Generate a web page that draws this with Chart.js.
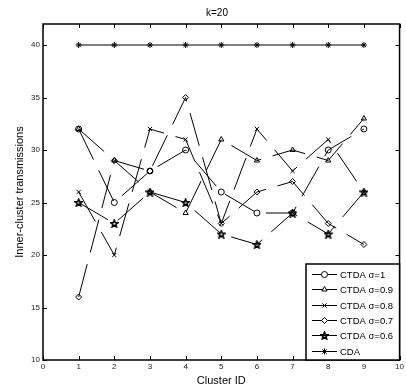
<!DOCTYPE html>
<html>
<head>
<meta charset="utf-8">
<script src="https://cdn.jsdelivr.net/npm/chart.js@4/dist/chart.umd.min.js"></script>
<style>
html,body{margin:0;padding:0;background:#fff;}
#wrap{width:406px;height:392px;}
</style>
</head>
<body>
<div id="wrap"><canvas id="c" width="406" height="392"></canvas></div>
<script>
const clusterIds = [1,2,3,4,5,6,7,8,9];
const ctda10 = [32,25,28,30,26,24,24,30,32];
const ctda09 = [32,29,26,24,31,29,30,29,33];
const ctda08 = [26,20,32,31,23,32,28,31,26];
const ctda07 = [16,29,28,35,23,26,27,23,21];
const ctda06 = [25,23,26,25,22,21,24,22,26];
const cda    = [40,40,40,40,40,40,40,40,40];
const seriesLabels = ['CTDA σ=1','CTDA σ=0.9','CTDA σ=0.8','CTDA σ=0.7','CTDA σ=0.6','CDA'];
const xTicks = [0,1,2,3,4,5,6,7,8,9,10];
const yTicks = [10,15,20,25,30,35,40];
const titleText = 'k=20';

function makePentagram(){
  const s = 9, c = document.createElement('canvas');
  c.width = s; c.height = s;
  const g = c.getContext('2d');
  g.beginPath();
  const cx = s/2, cy = s/2 + 0.4, R = 3.8, r = 1.6;
  for (let i=0;i<10;i++){
    const a = -Math.PI/2 + i*Math.PI/5;
    const rad = i%2===0 ? R : r;
    const px = cx + rad*Math.cos(a), py = cy + rad*Math.sin(a);
    if(i===0) g.moveTo(px,py); else g.lineTo(px,py);
  }
  g.closePath();
  g.lineWidth = 1.5; g.strokeStyle = '#000'; g.stroke();
  return c;
}
const pentagram = makePentagram();

const styles = ['circle','triangle','crossRot','rectRot',pentagram,'star'];
const allData = [ctda10, ctda09, ctda08, ctda07, ctda06, cda];
const dashes = [[34,12],[34,12],[34,12],[34,12],[34,12],[]];

const datasets = allData.map((vals,i)=>({
  label: seriesLabels[i],
  data: clusterIds.map((x,j)=>({x:x,y:vals[j]})),
  borderColor:'#000',
  backgroundColor:'rgba(0,0,0,0)',
  borderWidth:1,
  borderDash:dashes[i],
  pointStyle:styles[i],
  pointRadius:3,
  pointBorderColor:'#000',
  pointBorderWidth:1,
  pointBackgroundColor:'rgba(0,0,0,0)',
  tension:0
}));

function drawMarker(ctx, style, x, y, r){
  if (typeof style !== 'string'){
    ctx.drawImage(style, Math.round(x - style.width/2), Math.round(y - style.height/2));
    return;
  }
  if (Chart.helpers && Chart.helpers.drawPoint){
    ctx.fillStyle = '#fff';
    ctx.strokeStyle = '#000';
    ctx.lineWidth = 1;
    Chart.helpers.drawPoint(ctx, {pointStyle:style, radius:r, borderWidth:1, rotation:0}, x, y);
  }
}

const boxPlugin = {
  id:'boxPlugin',
  afterDatasetsDraw(chart){
    const ctx = chart.ctx, a = chart.chartArea;
    const xs = chart.scales.x, ys = chart.scales.y;
    ctx.save();
    ctx.strokeStyle = '#000';
    ctx.lineWidth = 1;
    const tl = 4;
    ctx.beginPath();
    xTicks.forEach(v=>{
      const px = Math.round(xs.getPixelForValue(v))+0.5;
      ctx.moveTo(px,a.bottom); ctx.lineTo(px,a.bottom-tl);
      ctx.moveTo(px,a.top); ctx.lineTo(px,a.top+tl);
    });
    yTicks.forEach(v=>{
      const py = Math.round(ys.getPixelForValue(v))+0.5;
      ctx.moveTo(a.left,py); ctx.lineTo(a.left+tl,py);
      ctx.moveTo(a.right,py); ctx.lineTo(a.right-tl,py);
    });
    ctx.stroke();
    ctx.lineWidth = 1.5;
    ctx.strokeRect(a.left, a.top, a.right-a.left, a.bottom-a.top);
    ctx.fillStyle = '#000';
    ctx.font = '10px "Liberation Sans", Arial, sans-serif';
    ctx.textAlign = 'center';
    ctx.textBaseline = 'middle';
    ctx.fillText(titleText, 217, 13);
    const lx = 306, ly = 264, lw = a.right - lx, lh = a.bottom - ly;
    ctx.fillStyle = '#fff';
    ctx.fillRect(lx, ly, lw, lh);
    ctx.lineWidth = 1.5;
    ctx.strokeStyle = '#000';
    ctx.strokeRect(lx, ly, lw, lh);
    chart.data.datasets.forEach((ds,i)=>{
      const yy = Math.round(ly + 10 + i*15.3) + 0.5;
      ctx.lineWidth = 1;
      ctx.strokeStyle = '#000';
      ctx.setLineDash([]);
      ctx.beginPath();
      ctx.moveTo(312, yy); ctx.lineTo(337, yy);
      ctx.stroke();
      drawMarker(ctx, ds.pointStyle, 324.5, yy, 3);
      ctx.fillStyle = '#000';
      ctx.font = '9.5px "Liberation Sans", Arial, sans-serif';
      ctx.textAlign = 'left';
      ctx.textBaseline = 'middle';
      ctx.fillText(ds.label, 340, yy+0.5);
    });
    ctx.restore();
  }
};

new Chart(document.getElementById('c'), {
  type:'line',
  data:{datasets:datasets},
  plugins:[boxPlugin],
  options:{
    responsive:false,
    animation:false,
    devicePixelRatio:1,
    layout:{padding:{left:0,right:3,top:24,bottom:0}},
    plugins:{legend:{display:false},title:{display:false},tooltip:{enabled:false}},
    scales:{
      x:{
        type:'linear', min:0, max:10,
        afterBuildTicks(s){ s.ticks = xTicks.map(v=>({value:v})); },
        afterFit(s){ s.height = 32; },
        grid:{display:false, drawTicks:false},
        border:{display:false},
        ticks:{padding:2, color:'#222', font:{family:'"Liberation Sans", Arial, sans-serif', size:8}, maxRotation:0, autoSkip:false},
        title:{display:true, text:'Cluster ID', color:'#000', font:{family:'"Liberation Sans", Arial, sans-serif', size:11}, padding:{top:0,bottom:4}}
      },
      y:{
        type:'linear', min:10, max:42,
        afterBuildTicks(s){ s.ticks = yTicks.map(v=>({value:v})); },
        afterFit(s){ s.width = 43; },
        grid:{display:false, drawTicks:false},
        border:{display:false},
        ticks:{padding:3, color:'#222', font:{family:'"Liberation Sans", Arial, sans-serif', size:8}, autoSkip:false},
        title:{display:true, text:'Inner-cluster transmissions', color:'#000', font:{family:'"Liberation Sans", Arial, sans-serif', size:11}, padding:{top:13,bottom:0}}
      }
    }
  }
});
</script>
</body>
</html>
